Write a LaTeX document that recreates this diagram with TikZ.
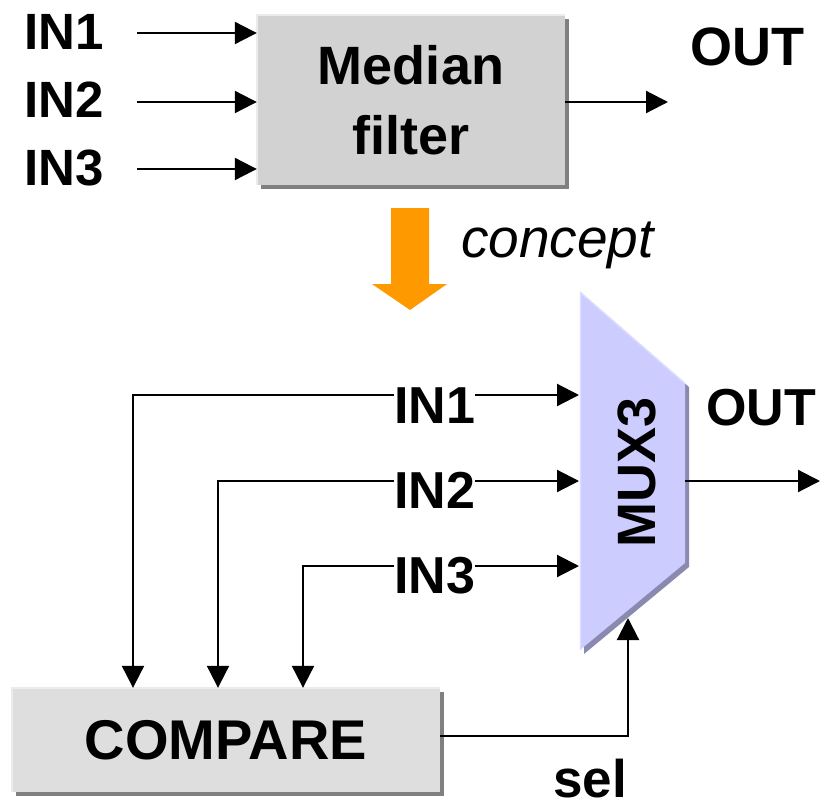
\documentclass[tikz,border=0pt]{standalone}
\usepackage{fontspec}
\setmainfont{Liberation Sans}
\usetikzlibrary{arrows.meta,shadows}
\definecolor{boxgray}{HTML}{D2D2D2}
\definecolor{cmpgray}{HTML}{DEDEDE}
\definecolor{boxlight}{HTML}{EBEBEB}
\definecolor{shadowgray}{HTML}{808080}
\definecolor{muxfill}{HTML}{CCCCFF}
\definecolor{muxlight}{HTML}{DCDCFF}
\definecolor{muxshadow}{HTML}{8A8AB0}
\definecolor{orangearrow}{HTML}{FF9900}
\begin{document}
\begin{tikzpicture}[x=1pt,y=-1pt,
  conn/.style={line width=2.2pt,-{Triangle[length=22pt,width=22pt]}},
  wire/.style={line width=2.2pt},
  lbl/.style={font=\fontsize{51}{60}\selectfont\bfseries,inner sep=0pt,anchor=base west},
  graybox/.style={inner sep=0pt,align=center,
    drop shadow={shadow xshift=4pt,shadow yshift=-4pt,fill=shadowgray,opacity=1}},
  hilite/.style={line width=2pt,draw=boxlight}]
\useasboundingbox (0,0) rectangle (825,809);

% ---------- top: median filter ----------
\node[graybox,fill=boxgray,minimum width=308pt,minimum height=170pt,
      font=\fontsize{54}{70}\selectfont\bfseries] (med) at (411,100) {Median\\filter};
\draw[hilite] (med.south west) -- (med.north west) -- (med.north east);

\node[lbl] (ti1) at (24,49) {IN1};
\node[lbl] (ti2) at (24,117) {IN2};
\node[lbl] (ti3) at (24,185) {IN3};
\node[lbl,font=\fontsize{54}{60}\selectfont\bfseries] (tout) at (690,65) {OUT};

\coordinate (a1) at (137,33);
\coordinate (a2) at (137,102);
\coordinate (a3) at (137,169);
\coordinate (ao) at (668,102);
\draw[conn] (a1) -- (a1 -| med.west);
\draw[conn] (a2) -- (a2 -| med.west);
\draw[conn] (a3) -- (a3 -| med.west);
\draw[conn] (med.east |- ao) -- (ao);

% ---------- concept arrow ----------
\fill[orangearrow] (391,208) -- (429,208) -- (429,284) -- (447,284) -- (410,310)
  -- (372,284) -- (391,284) -- cycle;
\node[anchor=base west,inner sep=0pt,font=\fontsize{55}{66}\selectfont\itshape]
  (concept) at (461,257) {concept};

% ---------- MUX3 ----------
\fill[muxshadow] (584,296) -- (689,387) -- (689,567) -- (584,654) -- cycle;
\fill[muxfill] (580,292) -- (685,383) -- (685,563) -- (580,650) -- cycle;
\draw[line width=1.5pt,muxlight] (580.5,650) -- (580.5,292.5) -- (685,383.5);
\node[rotate=90,inner sep=0pt,font=\fontsize{54}{60}\selectfont\bfseries] (mux) at (637,472) {MUX3};

\coordinate (m1) at (579,395);
\coordinate (m2) at (579,481);
\coordinate (m3) at (579,566);
\coordinate (mo) at (685,481);
\coordinate (msel) at (628,618);
\coordinate (outtip) at (820,481);

% ---------- COMPARE ----------
\node[graybox,fill=cmpgray,minimum width=428pt,minimum height=104pt,
      font=\fontsize{56}{66}\selectfont\bfseries] (cmp) at (226,740) {COMPARE};
\draw[hilite] (cmp.south west) -- (cmp.north west) -- (cmp.north east);

% ---------- lower labels ----------
\node[lbl,font=\fontsize{52}{60}\selectfont\bfseries] (l1) at (394,423) {IN1};
\node[lbl,font=\fontsize{52}{60}\selectfont\bfseries] (l2) at (394,508) {IN2};
\node[lbl,font=\fontsize{52}{60}\selectfont\bfseries] (l3) at (394,593) {IN3};
\node[lbl,font=\fontsize{52}{60}\selectfont\bfseries] (bout) at (706,425) {OUT};
\node[lbl,font=\fontsize{53}{60}\selectfont\bfseries] (sel) at (553,797) {sel};

\coordinate (t1) at (133,395);
\coordinate (t2) at (218,481);
\coordinate (t3) at (303,566);
\coordinate (s1) at (628,736);

\draw[conn] (l1.west |- t1) -- (t1) -- (t1 |- cmp.north);
\draw[conn] (l2.west |- t2) -- (t2) -- (t2 |- cmp.north);
\draw[conn] (l3.west |- t3) -- (t3) -- (t3 |- cmp.north);
\draw[conn] (l1.east |- m1) -- (m1);
\draw[conn] (l2.east |- m2) -- (m2);
\draw[conn] (l3.east |- m3) -- (m3);
\draw[conn] (mo) -- (outtip);
\draw[conn] (cmp.east |- s1) -- (s1) -- (msel);
\end{tikzpicture}
\end{document}
